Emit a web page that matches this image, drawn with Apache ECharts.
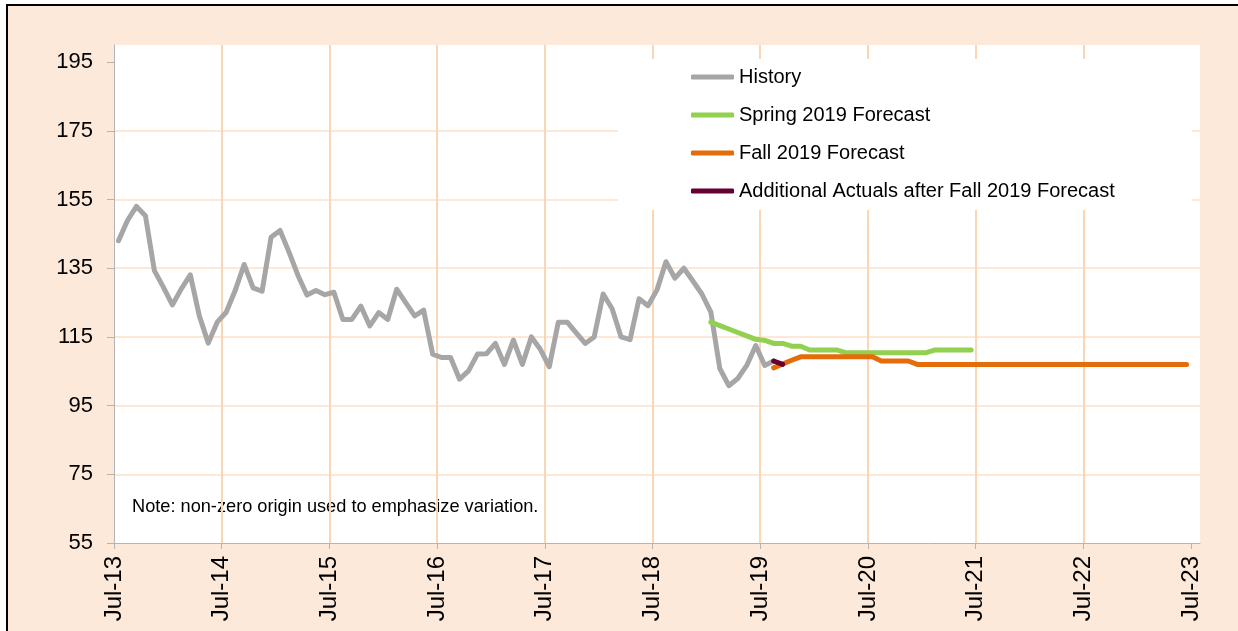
<!DOCTYPE html>
<html>
<head>
<meta charset="utf-8">
<script src="https://cdn.jsdelivr.net/npm/echarts@6/dist/echarts.min.js"></script>
<style>
  html, body { margin: 0; padding: 0; background: #fff; overflow: hidden; }
  #frame { position: absolute; left: 6px; top: 4px; width: 1300px; height: 700px; border: 2px solid #000; background: #fde9d9; }
  #chart { position: absolute; left: 0; top: 0; width: 1238px; height: 631px; }
</style>
</head>
<body>
<div id="frame"></div>
<div id="chart"></div>
<script>
// x tick labels, one per July (every 12 months from Jul-13)
const tickLabels = ['Jul-13', 'Jul-14', 'Jul-15', 'Jul-16', 'Jul-17', 'Jul-18',
  'Jul-19', 'Jul-20', 'Jul-21', 'Jul-22', 'Jul-23'];
const yTicks = [55, 75, 95, 115, 135, 155, 175, 195];

// monthly values, month 0 = Jul-13
const historyStart = 0;
const history = [
  143.0, 148.9, 153.0, 150.3, 134.3, 129.5, 124.3, 129.0, 133.1, 121.2, 113.2, 119.3,
  122.2, 128.5, 136.1, 129.3, 128.3, 144.0, 146.0, 139.7, 132.9, 127.2, 128.5, 127.3,
  128.0, 120.1, 120.1, 124.0, 118.2, 122.1, 120.1, 128.9, 125.0, 121.1, 122.8, 110.0,
  109.0, 109.0, 102.7, 105.1, 110.0, 110.1, 113.1, 107.0, 114.1, 107.0, 115.0, 111.4,
  106.3, 119.3, 119.3, 116.2, 113.1, 115.0, 127.5, 123.2, 115.0, 114.2, 126.1, 124.1,
  128.7, 136.9, 132.1, 135.0, 131.3, 127.5, 122.2, 105.8, 100.8, 102.9, 106.7, 112.5,
  106.7, 108.0
];

const springStart = 66; // Jan-19
const spring = [
  119.3, 118.3, 117.3, 116.3, 115.3, 114.3, 114.0, 113.1, 113.1, 112.3, 112.3, 111.2,
  111.2, 111.2, 111.2, 110.4, 110.4, 110.4, 110.4, 110.4, 110.4, 110.4, 110.4, 110.4,
  110.4, 111.2, 111.2, 111.2, 111.2, 111.2
];

const fallStart = 73; // Aug-19
const fall = [
  106.0, 107.1, 108.2, 109.2, 109.2, 109.2, 109.2, 109.2, 109.2, 109.2, 109.2, 109.2,
  108.0, 108.0, 108.0, 108.0, 107.0, 107.0, 107.0, 107.0, 107.0, 107.0, 107.0, 107.0,
  107.0, 107.0, 107.0, 107.0, 107.0, 107.0, 107.0, 107.0, 107.0, 107.0, 107.0, 107.0,
  107.0, 107.0, 107.0, 107.0, 107.0, 107.0, 107.0, 107.0, 107.0, 107.0, 107.0
];

const extraStart = 73; // Aug-19
const extra = [108.0, 107.0];

const FONT = '"Liberation Sans", Arial, sans-serif';

// points sit in the middle of their month
function lineSeries(name, values, start, color) {
  return {
    name: name,
    type: 'line',
    data: values.map((v, k) => [start + k + 0.5, v]),
    symbol: 'none',
    showSymbol: false,
    lineStyle: { color: color, width: 5, cap: 'round', join: 'round' },
    itemStyle: { color: color },
    emphasis: { disabled: true },
    silent: true
  };
}

const chart = echarts.init(document.getElementById('chart'));

chart.setOption({
  animation: false,
  grid: { left: 114, right: 38, top: 45, bottom: 88, show: true, backgroundColor: '#fff', borderWidth: 0 },
  xAxis: {
    type: 'value',
    min: 0,
    max: 121,
    interval: 12,
    axisLine: { show: true, lineStyle: { color: '#b4b4b4', width: 1 } },
    axisTick: { show: true, length: 6, lineStyle: { color: '#b4b4b4' },
      customValues: tickLabels.map((_, k) => k * 12) },
    axisLabel: {
      customValues: tickLabels.map((_, k) => k * 12),
      formatter: v => tickLabels[Math.round(v / 12)],
      rotate: 90,
      margin: 13,
      padding: [20, 0, 0, 0],
      color: '#000',
      fontSize: 24,
      fontFamily: FONT
    },
    splitLine: { show: true, showMinLine: false, showMaxLine: false,
      lineStyle: { color: '#fcd5b4', width: 2 } }
  },
  yAxis: {
    type: 'value',
    min: 55,
    max: 200,
    interval: 20,
    axisLine: { show: true, lineStyle: { color: '#b4b4b4', width: 1 } },
    axisTick: { show: true, length: 7, lineStyle: { color: '#b4b4b4' }, customValues: yTicks },
    axisLabel: { customValues: yTicks, margin: 21, color: '#000', fontSize: 22, fontFamily: FONT },
    splitLine: { show: true, showMinLine: false, showMaxLine: false,
      lineStyle: { color: '#fde0c8', width: 1.5 } }
  },
  legend: {
    orient: 'vertical',
    left: 618,
    top: 59,
    padding: [7, 77, 8, 73],
    backgroundColor: '#fff',
    icon: 'roundRect',
    itemWidth: 43,
    itemHeight: 5,
    itemGap: 16,
    selectedMode: false,
    textStyle: { fontSize: 20, lineHeight: 22, color: '#000', fontFamily: FONT },
    data: ['History', 'Spring 2019 Forecast', 'Fall 2019 Forecast', 'Additional Actuals after Fall 2019 Forecast']
  },
  graphic: [{
    type: 'text',
    x: 132,
    y: 507,
    silent: true,
    style: {
      text: 'Note: non-zero origin used to emphasize variation.',
      fill: '#000',
      font: '18.2px ' + FONT,
      verticalAlign: 'middle'
    }
  }],
  series: [
    lineSeries('History', history, historyStart, '#a6a6a6'),
    lineSeries('Spring 2019 Forecast', spring, springStart, '#92d050'),
    lineSeries('Fall 2019 Forecast', fall, fallStart, '#e46c0a'),
    lineSeries('Additional Actuals after Fall 2019 Forecast', extra, extraStart, '#660033')
  ]
});
</script>
</body>
</html>
